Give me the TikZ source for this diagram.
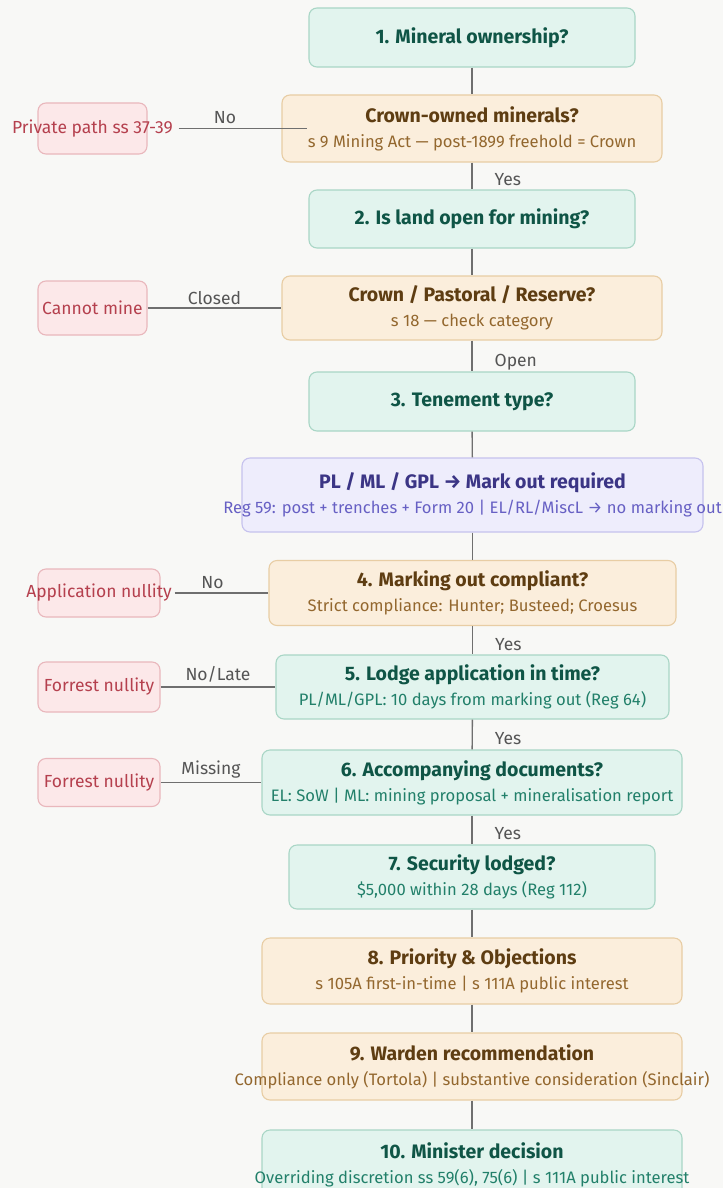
\documentclass[tikz,border=0pt]{standalone}
\usepackage{fontspec}
\setmainfont{Fira Sans}

\definecolor{paper}{HTML}{F8F8F6}
\definecolor{tealfill}{HTML}{E2F4EE}
\definecolor{tealline}{HTML}{A9D6C6}
\definecolor{tealtext}{HTML}{0F5546}
\definecolor{tealsub}{HTML}{22806A}
\definecolor{amberfill}{HTML}{FBEEDC}
\definecolor{amberline}{HTML}{E8CDA4}
\definecolor{ambertext}{HTML}{5E3D12}
\definecolor{ambersub}{HTML}{93672E}
\definecolor{purplefill}{HTML}{EEEDFC}
\definecolor{purpleline}{HTML}{C6C2EE}
\definecolor{purpletext}{HTML}{3B3585}
\definecolor{purplesub}{HTML}{6760C4}
\definecolor{redfill}{HTML}{FCE8E9}
\definecolor{redline}{HTML}{E9B7BC}
\definecolor{redtext}{HTML}{B5404E}
\definecolor{linkgray}{HTML}{6F6F6F}
\definecolor{taggray}{HTML}{555555}

\newcommand{\hd}[1]{\makebox[0pt]{\fontsize{19.5}{25}\selectfont\bfseries #1}}
\newcommand{\sbl}[1]{\makebox[0pt]{\fontsize{16.6}{25}\selectfont\color{subcol}#1}}

\begin{document}
\begin{tikzpicture}[x=1pt,y=-1pt,
   box/.style={rounded corners=8pt, line width=1.1pt, inner sep=0pt, align=center,
      font=\fontsize{19.5}{25}\selectfont},
   teal box/.style={box, fill=tealfill, draw=tealline, text=tealtext,
      execute at begin node=\colorlet{subcol}{tealsub}},
   amber box/.style={box, fill=amberfill, draw=amberline, text=ambertext,
      execute at begin node=\colorlet{subcol}{ambersub}},
   purple box/.style={box, fill=purplefill, draw=purpleline, text=purpletext,
      execute at begin node=\colorlet{subcol}{purplesub}},
   red box/.style={box, fill=redfill, draw=redline, text=redtext,
      font=\fontsize{17.5}{20}\selectfont},
   link/.style={draw=linkgray, line width=1.4pt},
   tag/.style={text=taggray, font=\fontsize{17.5}{20}\selectfont, inner sep=2pt}]

   \path[use as bounding box, fill=paper] (0,0) rectangle (723,1188);
   \clip (0,0) rectangle (723,1188);

   % main spine
   \node[teal box, minimum width=326, minimum height=59] (q1) at (472,37.5) {\hd{1. Mineral ownership?}};
   \node[amber box, minimum width=380, minimum height=67] (crown) at (472,128.5)
      {\hd{Crown-owned minerals?}\\\sbl{s 9 Mining Act — post-1899 freehold = Crown}};
   \node[teal box, minimum width=326, minimum height=58] (q2) at (472,219) {\hd{2. Is land open for mining?}};
   \node[amber box, minimum width=380, minimum height=64] (land) at (472,308)
      {\hd{Crown / Pastoral / Reserve?}\\\sbl{s 18 — check category}};
   \node[teal box, minimum width=326, minimum height=59] (q3) at (472,401.5) {\hd{3. Tenement type?}};
   \node[purple box, minimum width=461, minimum height=74] (mark) at (472.5,495)
      {\hd{PL / ML / GPL → Mark out required}\\\sbl{Reg 59: post + trenches + Form 20 | EL/RL/MiscL → no marking out}};
   \node[amber box, minimum width=407, minimum height=65] (q4) at (472.5,593)
      {\hd{4. Marking out compliant?}\\\sbl{Strict compliance: Hunter; Busteed; Croesus}};
   \node[teal box, minimum width=393, minimum height=64] (q5) at (472.5,687)
      {\hd{5. Lodge application in time?}\\\sbl{PL/ML/GPL: 10 days from marking out (Reg 64)}};
   \node[teal box, minimum width=420, minimum height=65] (q6) at (472,782.5)
      {\hd{6. Accompanying documents?}\\\sbl{EL: SoW | ML: mining proposal + mineralisation report}};
   \node[teal box, minimum width=366, minimum height=64] (q7) at (472,877)
      {\hd{7. Security lodged?}\\\sbl{\$5,000 within 28 days (Reg 112)}};
   \node[amber box, minimum width=420, minimum height=66] (q8) at (472,971)
      {\hd{8. Priority \& Objections}\\\sbl{s 105A first-in-time | s 111A public interest}};
   \node[amber box, minimum width=420, minimum height=67] (q9) at (472,1066.5)
      {\hd{9. Warden recommendation}\\\sbl{Compliance only (Tortola) | substantive consideration (Sinclair)}};
   \node[teal box, minimum width=420, minimum height=70] (q10) at (472,1165)
      {\hd{10. Minister decision}\\\sbl{Overriding discretion ss 59(6), 75(6) | s 111A public interest}};

   % dead ends
   \node[red box, minimum width=109, minimum height=51] (priv) at (92.5,128.5) {\makebox[0pt]{Private path ss 37-39}};
   \node[red box, minimum width=109, minimum height=54] (nomine) at (92.5,308) {\makebox[0pt]{Cannot mine}};
   \node[red box, minimum width=122, minimum height=48] (nullA) at (99,593) {\makebox[0pt]{Application nullity}};
   \node[red box, minimum width=122, minimum height=50] (nullB) at (99,687) {\makebox[0pt]{Forrest nullity}};
   \node[red box, minimum width=122, minimum height=48] (nullC) at (99,782.5) {\makebox[0pt]{Forrest nullity}};

   % spine links
   \draw[link] (q1) -- (crown);
   \draw[link] (crown) -- node[tag, right, xshift=20, yshift=-4] {Yes} (q2);
   \draw[link] (q2) -- (land);
   \draw[link] (land) -- node[tag, right, xshift=20, yshift=-6] {Open} (q3);
   \draw[link] (q3) -- (mark);
   \draw[link] (mark) -- (q4);
   \draw[link] (q4) -- node[tag, right, xshift=20, yshift=-4] {Yes} (q5);
   \draw[link] (q5) -- node[tag, right, xshift=20, yshift=-4] {Yes} (q6);
   \draw[link] (q6) -- node[tag, right, xshift=20, yshift=-4] {Yes} (q7);
   \draw[link] (q7) -- (q8);
   \draw[link] (q8) -- (q9);
   \draw[link] (q9) -- (q10);

   % side links
   \draw[link] ([xshift=31]priv.east) -- node[tag, above, xshift=-18, yshift=2] {No} ([xshift=26]crown.west);
   \draw[link] (nomine) -- node[tag, above, yshift=1] {Closed} (land);
   \draw[link] ([xshift=14]nullA.east) -- node[tag, above, xshift=-9, yshift=2] {No} (q4);
   \draw[link] (nullB) -- node[tag, above, yshift=2] {No/Late} (q5);
   \draw[link] (nullC) -- node[tag, above, yshift=2] {Missing} (q6);
\end{tikzpicture}
\end{document}
